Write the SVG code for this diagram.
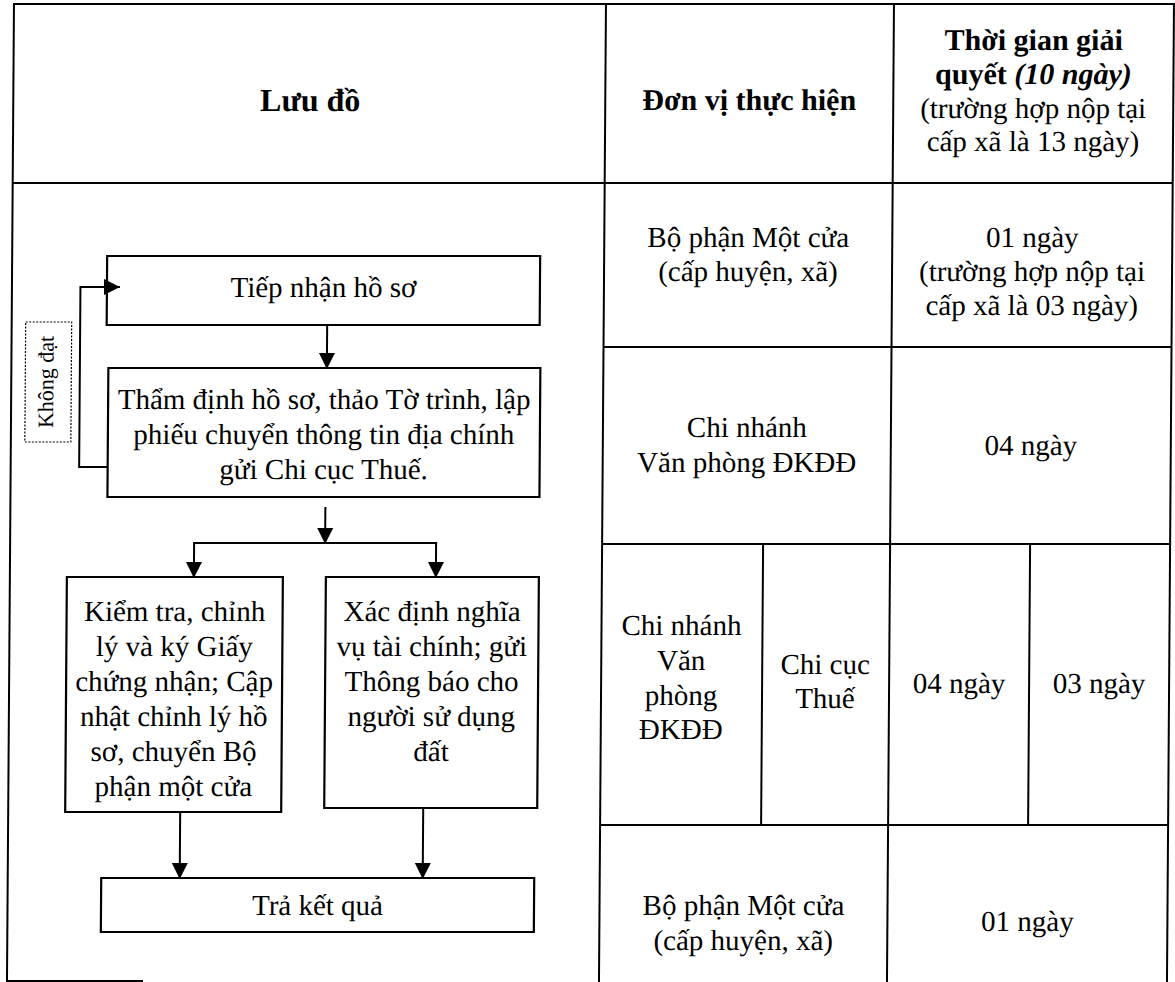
<svg xmlns="http://www.w3.org/2000/svg" width="1175" height="982" viewBox="0 0 1175 982">
<style>
text{font-family:"Liberation Serif","Times New Roman",serif;font-size:29px;fill:#000;text-anchor:middle}
.hb{font-weight:bold;font-size:30px}
.bi{font-weight:bold;font-style:italic}
.tl{stroke:#000;stroke-width:2;fill:none}
.box{stroke:#000;stroke-width:2.2;fill:none}
.cn{stroke:#000;stroke-width:2;fill:none}
.lbl{stroke:#000;stroke-width:1.2;stroke-dasharray:2 1.5;fill:none}
</style>
<defs>
<marker id="ah" markerWidth="18" markerHeight="18" refX="16" refY="9" orient="auto" markerUnits="userSpaceOnUse">
<path d="M0,1 L16,9 L0,17 z" fill="#000"/>
</marker>
</defs>
<rect width="1175" height="982" fill="#fff"/>
<g transform="skewX(-0.41)">
<g id="table">
<line class="tl" x1="14" y1="3" x2="14" y2="982"/>
<line class="tl" x1="1174" y1="3" x2="1174" y2="982"/>
<line class="tl" x1="14" y1="4" x2="1174" y2="4"/>
<line class="tl" x1="14" y1="183" x2="1174" y2="183"/>
<line class="tl" x1="606" y1="4" x2="606" y2="982"/>
<line class="tl" x1="894" y1="4" x2="894" y2="982"/>
<line class="tl" x1="606" y1="347" x2="1174" y2="347"/>
<line class="tl" x1="606" y1="544" x2="1174" y2="544"/>
<line class="tl" x1="606" y1="825" x2="1174" y2="825"/>
<line class="tl" x1="767" y1="544" x2="767" y2="825"/>
<line class="tl" x1="1034" y1="544" x2="1034" y2="825"/>
<line class="tl" x1="14" y1="981" x2="150" y2="981"/>
</g>
<g id="hdr-luudo"><text class="hb" x="311" y="111" style="font-size:32px">Lưu đồ</text></g>
<g id="hdr-donvi"><text class="hb" x="750" y="110">Đơn vị thực hiện</text></g>
<g id="hdr-thoigian">
<text class="hb" x="1034" y="50">Thời gian giải</text>
<text class="hb" x="1034" y="84">quyết <tspan class="bi">(10 ngày)</tspan></text>
<text x="1034" y="118">(trường hợp nộp tại</text>
<text x="1034" y="151">cấp xã là 13 ngày)</text>
</g>
<g id="r1-donvi">
<text x="750" y="247">Bộ phận Một cửa</text>
<text x="750" y="281">(cấp huyện, xã)</text>
</g>
<g id="r1-time">
<text x="1034" y="247">01 ngày</text>
<text x="1034" y="281">(trường hợp nộp tại</text>
<text x="1034" y="315">cấp xã là 03 ngày)</text>
</g>
<g id="r2-donvi">
<text x="750" y="437">Chi nhánh</text>
<text x="750" y="472">Văn phòng ĐKĐĐ</text>
</g>
<g id="r2-time"><text x="1034" y="455">04 ngày</text></g>
<g id="r3-vpdk">
<text x="686" y="635">Chi nhánh</text>
<text x="686" y="670">Văn</text>
<text x="686" y="705">phòng</text>
<text x="686" y="739">ĐKĐĐ</text>
</g>
<g id="r3-thue">
<text x="830" y="674">Chi cục</text>
<text x="830" y="708">Thuế</text>
</g>
<g id="r3-t1"><text x="964" y="693">04 ngày</text></g>
<g id="r3-t2"><text x="1104" y="693">03 ngày</text></g>
<g id="r4-donvi">
<text x="750" y="915">Bộ phận Một cửa</text>
<text x="750" y="950">(cấp huyện, xã)</text>
</g>
<g id="r4-time"><text x="1034" y="931">01 ngày</text></g>

<g id="n-tiepnhan">
<rect class="box" x="109" y="256" width="433" height="69"/>
<text x="325.5" y="297">Tiếp nhận hồ sơ</text>
</g>
<g id="n-khongdat">
<rect class="lbl" x="28" y="322" width="46" height="120"/>
<text transform="translate(56,382) rotate(-90)" x="0" y="0" style="font-size:22px">Không đạt</text>
</g>
<g id="n-thamdinh">
<rect class="box" x="111" y="368" width="432" height="129"/>
<text x="327" y="409">Thẩm định hồ sơ, thảo Tờ trình, lập</text>
<text x="327" y="444">phiếu chuyển thông tin địa chính</text>
<text x="327" y="479">gửi Chi cục Thuế.</text>
</g>
<g id="n-kiemtra">
<rect class="box" x="71" y="577" width="216" height="235"/>
<text x="179" y="621">Kiểm tra, chỉnh</text>
<text x="179" y="656">lý và ký Giấy</text>
<text x="179" y="691">chứng nhận; Cập</text>
<text x="179" y="726">nhật chỉnh lý hồ</text>
<text x="179" y="761">sơ, chuyển Bộ</text>
<text x="179" y="796">phận một cửa</text>
</g>
<g id="n-xacdinh">
<rect class="box" x="330" y="577" width="213" height="231"/>
<text x="436.5" y="621">Xác định nghĩa</text>
<text x="436.5" y="656">vụ tài chính; gửi</text>
<text x="436.5" y="691">Thông báo cho</text>
<text x="436.5" y="726">người sử dụng</text>
<text x="436.5" y="761">đất</text>
</g>
<g id="n-trakq">
<rect class="box" x="107.5" y="878" width="433" height="54"/>
<text x="324" y="915">Trả kết quả</text>
</g>
<g id="connectors">
<path class="cn" d="M329.5,325 V369" marker-end="url(#ah)"/>
<path class="cn" d="M111,467 H82.5 V287 H122" marker-end="url(#ah)"/>
<path class="cn" d="M329,507 V544" marker-end="url(#ah)"/>
<path class="cn" d="M197,543 H441"/>
<path class="cn" d="M198,543 V578" marker-end="url(#ah)"/>
<path class="cn" d="M440,543 V578" marker-end="url(#ah)"/>
<path class="cn" d="M186,812 V879" marker-end="url(#ah)"/>
<path class="cn" d="M429,808 V879" marker-end="url(#ah)"/>
</g>
</g>
</svg>
